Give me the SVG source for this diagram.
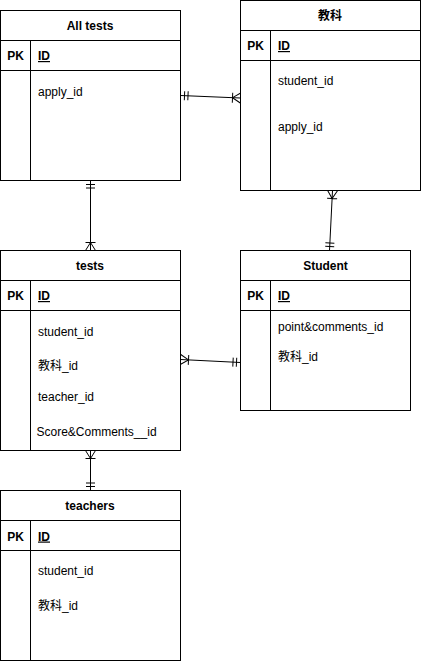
<svg xmlns="http://www.w3.org/2000/svg" width="421" height="661" viewBox="0 0 421 661">
<style>
.box{fill:#fff;stroke:#000;stroke-width:1}
.ln{stroke:#000;stroke-width:1;fill:none}
text{font-family:"Liberation Sans","Noto Sans CJK JP",sans-serif;font-size:12px;fill:#000}
.t{font-weight:bold;text-anchor:middle}
.pk{font-weight:bold;text-anchor:middle}
.id{font-weight:bold;text-decoration:underline}
</style>
<defs>
<marker id="one" markerUnits="userSpaceOnUse" orient="auto-start-reverse" refX="0" refY="0" markerWidth="20" markerHeight="20" overflow="visible">
<path d="M-4,-4.5V4.5M-7.5,-4.5V4.5" stroke="#000" stroke-width="1" fill="none"/>
</marker>
<marker id="many" markerUnits="userSpaceOnUse" orient="auto-start-reverse" refX="0" refY="0" markerWidth="20" markerHeight="20" overflow="visible">
<path d="M0,-5L-8,0L0,5M-8,-5V5" stroke="#000" stroke-width="1" fill="none"/>
</marker>
</defs>
<rect x="0" y="0" width="421" height="661" fill="#fff"/>

<g id="connectors">
<path class="ln" d="M180.5,95.5L240.5,98" marker-start="url(#one)" marker-end="url(#many)"/>
<path class="ln" d="M332.5,190.5L329.5,250.5" marker-start="url(#many)" marker-end="url(#one)"/>
<path class="ln" d="M90.5,180.5L90.5,250.5" marker-start="url(#one)" marker-end="url(#many)"/>
<path class="ln" d="M180.5,359.5L240.5,362.5" marker-start="url(#many)" marker-end="url(#one)"/>
<path class="ln" d="M90.5,450.5L90.5,490.5" marker-start="url(#many)" marker-end="url(#one)"/>
</g>

<g id="alltests">
<rect class="box" x="0.5" y="10.5" width="180" height="170"/>
<path class="ln" d="M0.5,40.5H180.5M0.5,70.5H180.5M30.5,40.5V180.5"/>
<text class="t" x="90" y="30">All tests</text>
<text class="pk" x="15.5" y="60">PK</text>
<text class="id" x="38" y="60">ID</text>
<text x="38" y="95.5">apply_id</text>
</g>

<g id="kyouka">
<rect class="box" x="240.5" y="0.5" width="180" height="190"/>
<path class="ln" d="M240.5,30.5H420.5M240.5,60.5H420.5M270.5,30.5V190.5"/>
<text class="t" x="330" y="19.5">教科</text>
<text class="pk" x="255.5" y="50">PK</text>
<text class="id" x="278" y="50">ID</text>
<text x="278" y="85">student_id</text>
<text x="278" y="131">apply_id</text>
</g>

<g id="tests">
<rect class="box" x="0.5" y="250.5" width="180" height="200"/>
<path class="ln" d="M0.5,280.5H180.5M0.5,310.5H180.5M30.5,280.5V450.5"/>
<text class="t" x="90" y="270">tests</text>
<text class="pk" x="15.5" y="300">PK</text>
<text class="id" x="38" y="300">ID</text>
<text x="38" y="335.5">student_id</text>
<text x="38" y="369.5">教科_id</text>
<text x="38" y="400.5">teacher_id</text>
<text x="36.5" y="435.5">Score&amp;Comments__id</text>
</g>

<g id="student">
<rect class="box" x="240.5" y="250.5" width="170" height="160"/>
<path class="ln" d="M240.5,280.5H410.5M240.5,310.5H410.5M270.5,280.5V410.5"/>
<text class="t" x="325.5" y="270">Student</text>
<text class="pk" x="255.5" y="300">PK</text>
<text class="id" x="278" y="300">ID</text>
<text x="278" y="330.5">point&amp;comments_id</text>
<text x="278" y="360.5">教科_id</text>
</g>

<g id="teachers">
<rect class="box" x="0.5" y="490.5" width="180" height="170"/>
<path class="ln" d="M0.5,520.5H180.5M0.5,550.5H180.5M30.5,520.5V660.5"/>
<text class="t" x="90" y="510">teachers</text>
<text class="pk" x="15.5" y="540.5">PK</text>
<text class="id" x="38" y="540.5">ID</text>
<text x="38" y="575">student_id</text>
<text x="38" y="610">教科_id</text>
</g>
</svg>
